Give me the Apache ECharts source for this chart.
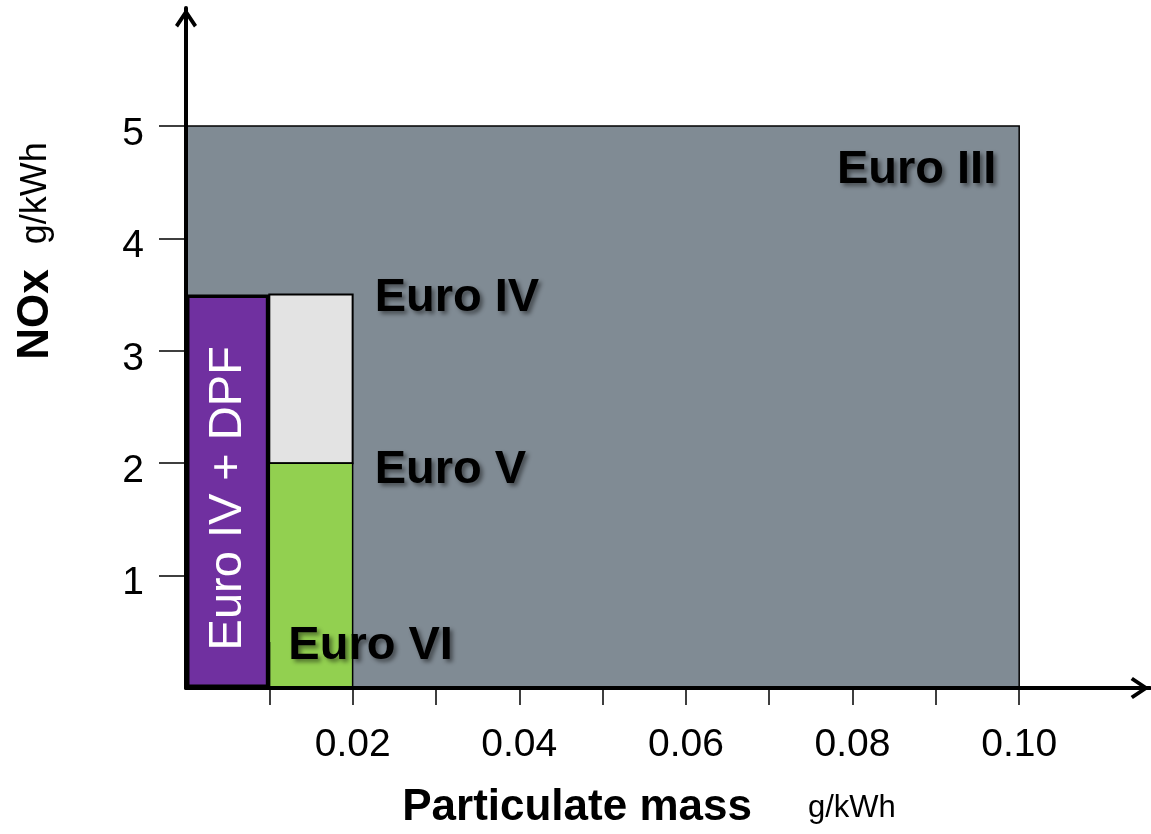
<!DOCTYPE html>
<html><head><meta charset="utf-8">
<script src="https://cdn.jsdelivr.net/npm/echarts@6/dist/echarts.min.js"></script>
<style>html,body{margin:0;padding:0;background:#fff}#c{width:1151px;height:834px}</style>
</head><body><div id="c"></div>
<script>
// ---- data ----
const regimes  = ['Euro III', 'Euro IV', 'Euro V', 'Euro VI', 'Euro IV + DPF'];
const pmFrom   = [0,    0.01, 0.01, 0,    0];
const pmLimit  = [0.10, 0.02, 0.02, 0.01, 0.01];
const noxFrom  = [0,    2,    0,    0,    0];
const noxLimit = [5,    3.5,  2,    0.4,  3.5];
const xTickValues  = [0.01, 0.02, 0.03, 0.04, 0.05, 0.06, 0.07, 0.08, 0.09, 0.10];
const xLabelValues = [0.02, 0.04, 0.06, 0.08, 0.10];
const yTickValues  = [1, 2, 3, 4, 5];
const xTitle = 'Particulate mass', xUnit = 'g/kWh';
const yTitle = 'NOx', yUnit = 'g/kWh';

// ---- styles ----
const FONT = '"Liberation Sans", Arial, sans-serif';
const styleOf = {
  'Euro III':      {fill: '#808b94', lw: 1.5, inset: false, anchor: 'tr', dx: -23, dy: 44, align: 'right', color: '#000', weight: 'bold', shadow: true},
  'Euro IV':       {fill: '#e3e3e3', lw: 2,   inset: false, anchor: 'tr', dx: 22,  dy: 3,  align: 'left',  color: '#000', weight: 'bold', shadow: true},
  'Euro V':        {fill: '#92d050', lw: 1.5, inset: false, anchor: 'tr', dx: 22,  dy: 7,  align: 'left',  color: '#000', weight: 'bold', shadow: true},
  'Euro VI':       {fill: 'rgba(0,0,0,0)', lw: 2, inset: false, anchor: 'tr', dx: 19, dy: 3, align: 'left', color: '#000', weight: 'bold', shadow: true},
  'Euro IV + DPF': {fill: '#7030a0', lw: 3.5, inset: true, anchor: 'c', dx: 0, dy: 7, align: 'center', color: '#fff', weight: 'normal', shadow: false, rotate: Math.PI / 2}
};

const seriesData = regimes.map((name, i) => ({
  name: name,
  value: [pmFrom[i], pmLimit[i], noxFrom[i], noxLimit[i]]
}));

const chart = echarts.init(document.getElementById('c'), null, {renderer: 'canvas'});

const arrowPath = 'path://M11 0 L22 16.5 L19 18.8 L11 6.8 L3 18.8 L0 16.5 Z';

function renderItem(params, api) {
  const name = regimes[params.dataIndex];
  const st = styleOf[name];
  const p0 = api.coord([api.value(0), api.value(2)]);
  const p1 = api.coord([api.value(1), api.value(3)]);
  let x = Math.min(p0[0], p1[0]), y = Math.min(p0[1], p1[1]);
  let w = Math.abs(p1[0] - p0[0]), h = Math.abs(p1[1] - p0[1]);
  if (st.inset) { x += st.lw / 2; y += st.lw / 2; w -= st.lw; h -= st.lw; }
  const children = [{
    type: 'rect',
    shape: {x: x, y: y, width: w, height: h},
    style: {fill: st.fill, stroke: '#000', lineWidth: st.lw}
  }];
  let tx, ty;
  if (st.anchor === 'tr') { tx = p1[0] + st.dx; ty = p1[1] + st.dy; }
  else { tx = (p0[0] + p1[0]) / 2 + st.dx; ty = (p0[1] + p1[1]) / 2 + st.dy; }
  const ts = {
    text: name, fill: st.color, fontSize: 47, fontWeight: st.weight, fontFamily: FONT,
    align: st.align, verticalAlign: 'middle'
  };
  if (st.shadow) {
    ts.textShadowColor = 'rgba(0,0,0,0.45)';
    ts.textShadowBlur = 4;
    ts.textShadowOffsetX = 3;
    ts.textShadowOffsetY = 3;
  }
  children.push({type: 'text', x: tx, y: ty, rotation: st.rotate || 0, style: ts, z2: 20});
  return {type: 'group', children: children};
}

chart.setOption({
  animation: false,
  backgroundColor: '#fff',
  grid: {left: 186, right: 1, top: 8, bottom: 146},
  xAxis: {
    type: 'value', min: 0, max: 0.1157, z: 10,
    splitLine: {show: false},
    axisLine: {show: true, onZero: false, lineStyle: {color: '#000', width: 4},
      symbol: ['none', arrowPath], symbolSize: [22, 20], symbolOffset: [0, -10]},
    axisTick: {show: true, length: 17, lineStyle: {color: '#000', width: 1.5}, customValues: xTickValues},
    axisLabel: {show: true, customValues: xLabelValues, margin: 38, color: '#000',
      fontSize: 39, fontFamily: FONT, formatter: v => v.toFixed(2)}
  },
  yAxis: {
    type: 'value', min: 0, max: 6.05, z: 10,
    splitLine: {show: false},
    axisLine: {show: true, onZero: false, lineStyle: {color: '#000', width: 4},
      symbol: ['none', arrowPath], symbolSize: [22, 20], symbolOffset: [0, -10]},
    axisTick: {show: true, length: 27, lineStyle: {color: '#000', width: 1.5}, customValues: yTickValues},
    axisLabel: {show: true, customValues: yTickValues, margin: 42, color: '#000',
      fontSize: 39, fontFamily: FONT,
      formatter: v => '{t|' + v + '}',
      rich: {t: {fontSize: 39, fontFamily: FONT, color: '#000', padding: [16, 0, 0, 0]}}}
  },
  graphic: [
    {
      type: 'text', x: 649, y: 808, z: 100,
      style: {
        text: '{b|' + xTitle + '}{n|' + xUnit + '}',
        align: 'center', verticalAlign: 'middle',
        rich: {
          b: {fontSize: 44, fontWeight: 'bold', fontFamily: FONT, fill: '#000'},
          n: {fontSize: 31, fontFamily: FONT, fill: '#000', padding: [0, 0, 0, 56]}
        }
      }
    },
    {
      type: 'text', x: 36, y: 251, rotation: Math.PI / 2, z: 100,
      style: {
        text: '{b|' + yTitle + '}{n|' + yUnit + '}',
        align: 'center', verticalAlign: 'middle',
        rich: {
          b: {fontSize: 44, fontWeight: 'bold', fontFamily: FONT, fill: '#000'},
          n: {fontSize: 36, fontFamily: FONT, fill: '#000', padding: [0, 0, 0, 25]}
        }
      }
    }
  ],
  series: [{
    type: 'custom',
    renderItem: renderItem,
    encode: {x: [0, 1], y: [2, 3]},
    data: seriesData,
    z: 2
  }]
});
</script>
</body></html>
